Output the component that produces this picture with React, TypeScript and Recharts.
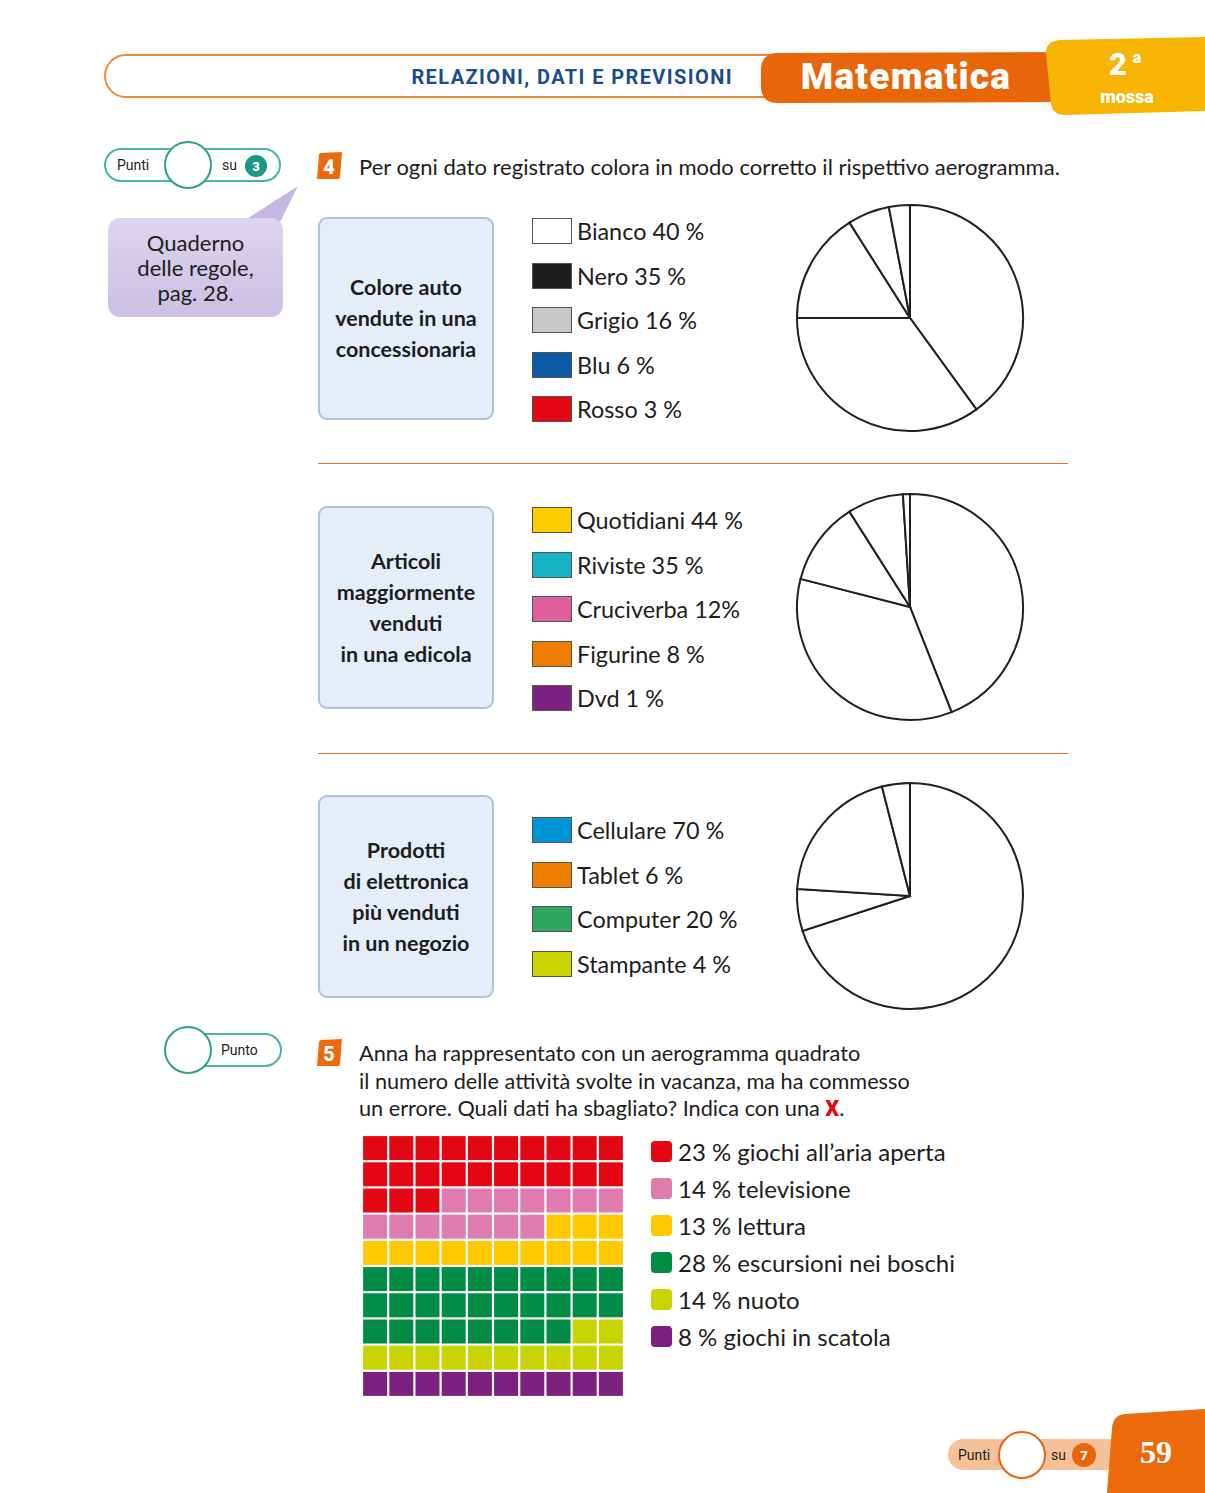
import React from "react"
import { PieChart, Pie, Cell, ScatterChart, Scatter, XAxis, YAxis } from "recharts"

const FONT = "Lato, 'Open Sans', sans-serif"

// esercizio 4
const autoNomi = ["Bianco 40 %", "Nero 35 %", "Grigio 16 %", "Blu 6 %", "Rosso 3 %"]
const autoValori = [40, 35, 16, 6, 3]
const autoColori = ["#ffffff", "#1d1d1b", "#c6c6c6", "#0a5aa5", "#e30613"]

const edicolaNomi = ["Quotidiani 44 %", "Riviste 35 %", "Cruciverba 12%", "Figurine 8 %", "Dvd 1 %"]
const edicolaValori = [44, 35, 12, 8, 1]
const edicolaColori = ["#ffcc00", "#15b3c3", "#e0609f", "#ef7d00", "#7d2180"]

const negozioNomi = ["Cellulare 70 %", "Tablet 6 %", "Computer 20 %", "Stampante 4 %"]
const negozioValori = [70, 6, 20, 4]
const negozioColori = ["#0093d6", "#ef7d00", "#2ea660", "#c9d400"]

// esercizio 5 (quadretti contati nell'aerogramma quadrato)
const vacanzaNomi = [
  "23 % giochi all’aria aperta",
  "14 % televisione",
  "13 % lettura",
  "28 % escursioni nei boschi",
  "14 % nuoto",
  "8 % giochi in scatola",
]
const vacanzaQuadretti = [23, 14, 13, 28, 12, 10]
const vacanzaColori = ["#e30613", "#e07bb0", "#ffc800", "#008c44", "#c8d400", "#7b2180"]

type SezioneProps = {
  top: number
  titolo: string[]
  nomi: string[]
  valori: number[]
  colori: string[]
  legendaTop: number
}

function Sezione({ top, titolo, nomi, valori, colori, legendaTop }: SezioneProps) {
  const data = valori.map((v, i) => ({ name: nomi[i], value: v }))
  return (
    <>
      <div
        style={{
          position: "absolute", left: 318, top, width: 176, height: 203, boxSizing: "border-box",
          background: "#e5edf8", border: "2px solid #a9c1e2", borderRadius: 9,
          display: "flex", flexDirection: "column", justifyContent: "center", alignItems: "center",
        }}
      >
        {titolo.map((t) => (
          <div key={t} style={{ fontFamily: FONT, fontWeight: 700, fontSize: 21.5, lineHeight: "31px", color: "#1d1d1b", whiteSpace: "nowrap" }}>
            {t}
          </div>
        ))}
      </div>
      {nomi.map((n, i) => (
        <div key={n} style={{ position: "absolute", left: 532, top: legendaTop + i * 44.5 - 16, height: 32, display: "flex", alignItems: "center" }}>
          <div style={{ width: 38, height: 24, background: colori[i], border: "1px solid #555", marginRight: 5 }} />
          <span style={{ fontFamily: FONT, fontSize: 23.4, color: "#1d1d1b", whiteSpace: "nowrap" }}>{n}</span>
        </div>
      ))}
      <div style={{ position: "absolute", left: 790, top: top + 101 - 120 }}>
        <PieChart width={240} height={240} margin={{ top: 0, right: 0, bottom: 0, left: 0 }}>
          <Pie
            data={data}
            dataKey="value"
            cx={120}
            cy={120}
            outerRadius={113}
            startAngle={90}
            endAngle={-270}
            stroke="#231f20"
            strokeWidth={2}
            isAnimationActive={false}
          >
            {data.map((d) => (
              <Cell key={d.name} fill="#ffffff" />
            ))}
          </Pie>
        </PieChart>
      </div>
    </>
  )
}

const quadretti = (() => {
  const out: { col: number; row: number; color: string }[] = []
  let k = 0
  vacanzaQuadretti.forEach((n, g) => {
    for (let j = 0; j < n; j++) {
      out.push({ col: (k % 10) + 0.5, row: Math.floor(k / 10) + 0.5, color: vacanzaColori[g] })
      k++
    }
  })
  return out
})()

function Quadretto(props: any) {
  const { cx, cy } = props
  const color = props.payload?.color ?? props.color
  return <rect x={cx - 12} y={cy - 12} width={24} height={24} fill={color} />
}

function Badge({ left, top, label }: { left: number; top: number; label: string }) {
  return (
    <div style={{ position: "absolute", left, top, width: 28, height: 28 }}>
      <svg width={28} height={28}>
        <path d="M4,3 Q4,1 6,1 L27,0 L25,25 Q25,27 23,27 L2,27 Z" fill="#ea6a0c" />
        <text x={14} y={22} textAnchor="middle" fontFamily="Roboto" fontWeight={900} fontSize={20} fill="#fff">{label}</text>
      </svg>
    </div>
  )
}

export default function App() {
  const testo: React.CSSProperties = { position: "absolute", fontFamily: FONT, color: "#1d1d1b", whiteSpace: "nowrap" }
  return (
    <div style={{ position: "absolute", left: 0, top: 0, width: 1205, height: 1493, background: "#fff", overflow: "hidden" }}>
      {/* intestazione */}
      <svg width={1205} height={130} style={{ position: "absolute", left: 0, top: 0 }}>
        <rect x={105} y={55} width={690} height={42} rx={21} fill="#fff" stroke="#ec8a3c" strokeWidth={2} />
        <path d="M778,53 L1068,52 L1068,102 L778,103 Q762,103 761,88 L761,68 Q762,53 778,53 Z" fill="#e8650a" />
        <path d="M1060,40 L1205,37 L1205,111 L1064,115 Q1053,115 1051,104 L1046,53 Q1046,41 1060,40 Z" fill="#f7b400" />
        <text x={733} y={84} textAnchor="end" fontFamily="Roboto" fontWeight={700} fontSize={20} letterSpacing={1.4} fill="#1b4c8c">
          RELAZIONI, DATI E PREVISIONI
        </text>
        <text x={906} y={89} textAnchor="middle" fontFamily="Roboto" fontWeight={900} fontSize={37} letterSpacing={1.2} fill="#fff">
          Matematica
        </text>
        <text x={1118} y={75} textAnchor="middle" fontFamily="Roboto" fontWeight={900} fontSize={31} fill="#fff">2</text>
        <text x={1137} y={63} textAnchor="middle" fontFamily="Roboto" fontWeight={900} fontSize={16} fill="#fff">a</text>
        <text x={1127} y={103} textAnchor="middle" fontFamily="Roboto" fontWeight={900} fontSize={18} fill="#fff">mossa</text>
      </svg>

      {/* punti esercizio 4 */}
      <svg width={300} height={330} style={{ position: "absolute", left: 0, top: 0 }}>
        <rect x={105} y={149} width={175} height={32} rx={16} fill="#fff" stroke="#49b3a6" strokeWidth={2} />
        <circle cx={188} cy={165} r={23} fill="#fff" stroke="#2f9e8f" strokeWidth={2} />
        <text x={117} y={170} fontFamily="Roboto" fontSize={14} fill="#1d1d1b">Punti</text>
        <text x={222} y={170} fontFamily="Roboto" fontSize={14} fill="#1d1d1b">su</text>
        <circle cx={256} cy={166} r={11} fill="#1e9587" />
        <text x={256} y={171} textAnchor="middle" fontFamily="Roboto" fontWeight={900} fontSize={13} fill="#fff">3</text>
        <defs>
          <linearGradient id="lilla" x1="0" y1="0" x2="0" y2="1">
            <stop offset="0%" stopColor="#ddd5ee" />
            <stop offset="100%" stopColor="#cbbfe3" />
          </linearGradient>
        </defs>
        <path d="M245,220 L298,186 L280,222 Z" fill="#c4b7e0" />
        <rect x={108} y={218} width={175} height={99} rx={12} fill="url(#lilla)" />
      </svg>
      {["Quaderno", "delle regole,", "pag. 28."].map((t, i) => (
        <div key={t} style={{ ...testo, left: 108, width: 175, textAlign: "center", top: 230 + i * 25, fontSize: 22, lineHeight: "26px" }}>
          {t}
        </div>
      ))}

      <Badge left={315} top={152} label="4" />
      <div style={{ ...testo, left: 359, top: 153, fontSize: 22, lineHeight: "28px" }}>
        Per ogni dato registrato colora in modo corretto il rispettivo aerogramma.
      </div>

      <Sezione top={217} titolo={["Colore auto", "vendute in una", "concessionaria"]} nomi={autoNomi} valori={autoValori} colori={autoColori} legendaTop={231} />
      <div style={{ position: "absolute", left: 318, top: 463, width: 750, height: 1, background: "#e8731e" }} />
      <Sezione top={506} titolo={["Articoli", "maggiormente", "venduti", "in una edicola"]} nomi={edicolaNomi} valori={edicolaValori} colori={edicolaColori} legendaTop={520} />
      <div style={{ position: "absolute", left: 318, top: 753, width: 750, height: 1, background: "#e8731e" }} />
      <Sezione top={795} titolo={["Prodotti", "di elettronica", "più venduti", "in un negozio"]} nomi={negozioNomi} valori={negozioValori} colori={negozioColori} legendaTop={830} />

      {/* esercizio 5 */}
      <svg width={300} height={1100} style={{ position: "absolute", left: 0, top: 0 }}>
        <rect x={188} y={1034} width={93} height={32} rx={16} fill="#fff" stroke="#49b3a6" strokeWidth={2} />
        <circle cx={188} cy={1050} r={23} fill="#fff" stroke="#2f9e8f" strokeWidth={2} />
        <text x={221} y={1055} fontFamily="Roboto" fontSize={14} fill="#1d1d1b">Punto</text>
      </svg>
      <Badge left={315} top={1039} label="5" />
      {[
        "Anna ha rappresentato con un aerogramma quadrato",
        "il numero delle attività svolte in vacanza, ma ha commesso",
      ].map((t, i) => (
        <div key={t} style={{ ...testo, left: 359, top: 1039 + i * 27.5, fontSize: 21.7, lineHeight: "28px" }}>{t}</div>
      ))}
      <div style={{ ...testo, left: 359, top: 1094, fontSize: 21.7, lineHeight: "28px" }}>
        un errore. Quali dati ha sbagliato? Indica con una{" "}
        <span style={{ color: "#e30613", fontWeight: 900, fontFamily: "Roboto" }}>X</span>.
      </div>

      <div style={{ position: "absolute", left: 362, top: 1135 }}>
        <ScatterChart width={262} height={262} margin={{ top: 0, right: 0, bottom: 0, left: 0 }}>
          <XAxis type="number" dataKey="col" domain={[0, 10]} hide />
          <YAxis type="number" dataKey="row" domain={[0, 10]} reversed hide />
          <Scatter data={quadretti} shape={<Quadretto />} isAnimationActive={false} />
        </ScatterChart>
      </div>

      {vacanzaNomi.map((n, i) => (
        <div key={n} style={{ position: "absolute", left: 651, top: 1151 + i * 37 - 16, height: 32, display: "flex", alignItems: "center" }}>
          <div style={{ width: 21, height: 21, borderRadius: 4, background: vacanzaColori[i], marginRight: 6 }} />
          <span style={{ fontFamily: FONT, fontSize: 24, color: "#1d1d1b", whiteSpace: "nowrap" }}>{n}</span>
        </div>
      ))}

      {/* piede */}
      <svg width={1205} height={1493} style={{ position: "absolute", left: 0, top: 0, pointerEvents: "none" }}>
        <rect x={948} y={1439} width={175} height={31} rx={15.5} fill="#f6c19a" />
        <circle cx={1022} cy={1455} r={23} fill="#fff" stroke="#e8650a" strokeWidth={2} />
        <text x={958} y={1460} fontFamily="Roboto" fontSize={14} fill="#1d1d1b">Punti</text>
        <text x={1051} y={1460} fontFamily="Roboto" fontSize={14} fill="#1d1d1b">su</text>
        <circle cx={1084} cy={1455} r={12} fill="#e8650a" />
        <text x={1084} y={1460} textAnchor="middle" fontFamily="Roboto" fontWeight={900} fontSize={13} fill="#fff">7</text>
        <path d="M1125,1414 L1205,1409 L1205,1493 L1107,1493 L1112,1428 Q1113,1415 1125,1414 Z" fill="#ea6a0c" />
        <text x={1156} y={1463} textAnchor="middle" fontFamily="'Liberation Serif'" fontWeight={700} fontSize={32} fill="#fff">59</text>
      </svg>
    </div>
  )
}
